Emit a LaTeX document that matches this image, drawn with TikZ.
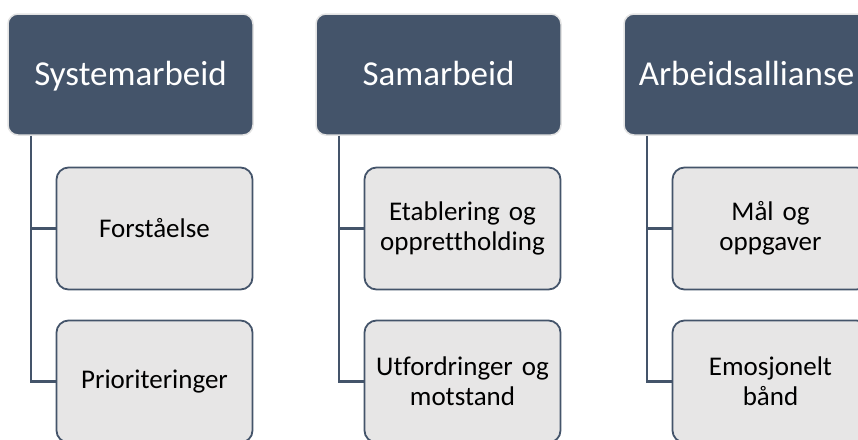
\documentclass[tikz,border=0pt]{standalone}
\usepackage{fontspec}
\setmainfont[Ligatures=NoCommon]{Carlito}
\definecolor{slate}{HTML}{44546A}
\definecolor{paleline}{HTML}{E3E3E3}
\definecolor{palefill}{HTML}{E7E6E6}
\begin{document}
\begin{tikzpicture}[x=1pt, y=-1pt,
        head/.style={rectangle, rounded corners=10pt, fill=slate, draw=paleline, line width=1.5pt,
            minimum width=245pt, minimum height=121pt, text=white, text height=22pt, text depth=0pt,
            font=\fontsize{35}{40}\selectfont},
        item/.style={rectangle, rounded corners=12pt, fill=palefill, draw=slate, line width=1.8pt,
            minimum width=196pt, minimum height=122pt, text width=180pt, align=center,
            font=\fontsize{27}{30}\selectfont},
        link/.style={draw=slate, line width=2.2pt}]
        \useasboundingbox (0,0) rectangle (858,439);
        \clip (0,0) rectangle (858,439);

        \node[head] (A) at (130.5,74.5) {Systemarbeid};
        \node[head] (B) at (438.5,74.5) {Samarbeid};
        \node[head] (C) at (746.5,74.5) {Arbeidsallianse};

        \node[item] (A1) at (154.5,228.5) {Forståelse};
        \node[item] (A2) at (154.5,381.5) {Prioriteringer};
        \node[item] (B1) at (462.5,228.5) {Etablering og\\opprettholding};
        \node[item] (B2) at (462.5,381.5) {Utfordringer og\\motstand};
        \node[item] (C1) at (770.5,228.5) {Mål og\\oppgaver};
        \node[item] (C2) at (770.5,381.5) {Emosjonelt\\bånd};

        \draw[link] ([xshift=24pt]A.south west) |- (A1.west);
        \draw[link] ([xshift=24pt]A.south west) |- (A2.west);
        \draw[link] ([xshift=24pt]B.south west) |- (B1.west);
        \draw[link] ([xshift=24pt]B.south west) |- (B2.west);
        \draw[link] ([xshift=24pt]C.south west) |- (C1.west);
        \draw[link] ([xshift=24pt]C.south west) |- (C2.west);
    \end{tikzpicture}
\end{document}
